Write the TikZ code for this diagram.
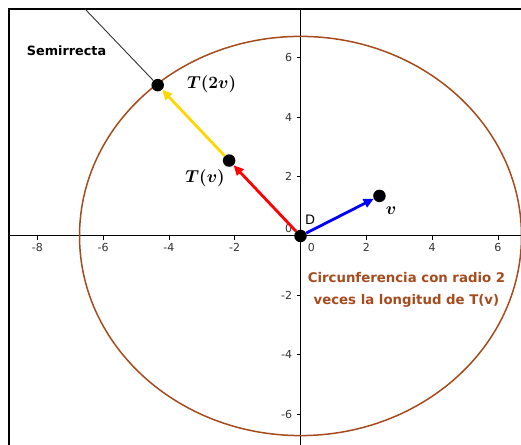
\documentclass[tikz,border=0pt]{standalone}
\usepackage{fontspec}
\setsansfont{DejaVu Sans}
\usepackage{bm}
\usetikzlibrary{arrows.meta}
\definecolor{circulo}{RGB}{165,75,30}
\definecolor{oro}{RGB}{255,215,0}

\begin{document}
\begin{tikzpicture}[x=32.9pt,y=29.7pt,
  punto/.style={circle,fill=black,inner sep=0pt,minimum size=12.5pt},
  vect/.style={line width=2.8pt,-{Triangle[length=10pt,width=9pt]}},
  marca/.style={font=\sffamily\fontsize{11}{13}\selectfont,text=black!80,inner sep=0pt},
  rotulo/.style={font=\fontsize{16}{18}\selectfont}]
\useasboundingbox (-9.134,-7.037) rectangle (6.702,7.946);
% marco
\draw [line width=2.2pt,line join=miter] (-8.86,-7.2) -- (-8.86,7.643) -- (6.8,7.643);
% ejes
\draw [line width=1pt] (-8.86,0) -- (6.702,0);
\draw [line width=1pt] (0,7.643) -- (0,-7.037);
\draw [line width=0.7pt] (-8,0) -- (-8,-0.13);
\draw [line width=0.7pt] (-6,0) -- (-6,-0.13);
\draw [line width=0.7pt] (-4,0) -- (-4,-0.13);
\draw [line width=0.7pt] (-2,0) -- (-2,-0.13);
\draw [line width=0.7pt] (2,0) -- (2,-0.13);
\draw [line width=0.7pt] (4,0) -- (4,-0.13);
\draw [line width=0.7pt] (6,0) -- (6,-0.13);
\draw [line width=0.7pt] (0,6) -- (-0.12,6);
\draw [line width=0.7pt] (0,4) -- (-0.12,4);
\draw [line width=0.7pt] (0,2) -- (-0.12,2);
\draw [line width=0.7pt] (0,-2) -- (-0.12,-2);
\draw [line width=0.7pt] (0,-4) -- (-0.12,-4);
\draw [line width=0.7pt] (0,-6) -- (-0.12,-6);
\node [marca] at (-8,-0.38) {-8};
\node [marca] at (-6,-0.38) {-6};
\node [marca] at (-4,-0.38) {-4};
\node [marca] at (-2,-0.38) {-2};
\node [marca] at (0.33,-0.38) {0};
\node [marca] at (2,-0.38) {2};
\node [marca] at (4,-0.38) {4};
\node [marca] at (6,-0.38) {6};
\node [marca,anchor=east] at (-0.25,6) {6};
\node [marca,anchor=east] at (-0.25,4) {4};
\node [marca,anchor=east] at (-0.25,2) {2};
\node [marca,anchor=east] at (-0.25,0.24) {0};
\node [marca,anchor=east] at (-0.25,-2) {-2};
\node [marca,anchor=east] at (-0.25,-4) {-4};
\node [marca,anchor=east] at (-0.25,-6) {-6};
% circunferencia
\draw [circulo,line width=1.5pt] (0,0) ellipse [x radius=221pt,y radius=199.6pt];
% puntos
\node [punto] (D) at (0,0) {};
\node [punto] (V) at (2.40,1.35) {};
\node [punto] (Tv) at (-2.17,2.54) {};
\node [punto] (T2v) at (-4.34,5.08) {};
\coordinate (fin) at (-6.55,7.643);
% semirrecta y vectores
\draw [black!80,line width=0.9pt] (T2v) -- (fin);
\draw [vect,blue] (D) -- (V);
\draw [vect,red] (D) -- (Tv);
\draw [vect,oro] (Tv) -- (T2v);
% textos
\node [font=\sffamily\fontsize{13}{15}\selectfont] at (0.29,0.56) {D};
\node [rotulo] at (2.75,0.84) {$\bm{v}$};
\node [rotulo] at (-2.90,1.95) {$\bm{T(v)}$};
\node [rotulo] at (-2.70,5.12) {$\bm{T(2v)}$};
\node [font=\sffamily\bfseries\fontsize{12.8}{14}\selectfont] at (-7.11,6.23) {Semirrecta};
\node [font=\sffamily\bfseries\fontsize{13.3}{22}\selectfont,text=circulo,align=center] at (3.22,-1.80)
  {Circunferencia con radio 2\\veces la longitud de T(v)};
\end{tikzpicture}
\end{document}
